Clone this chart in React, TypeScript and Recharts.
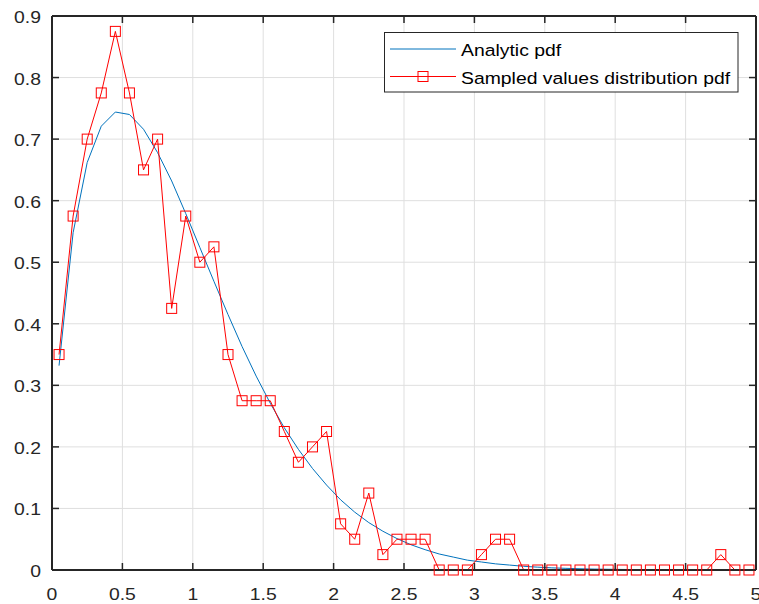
import React from "react";
import { ComposedChart, Line, XAxis, YAxis, CartesianGrid, Legend, ReferenceLine } from "recharts";

// bin centres of the histogram
const binCenters = [
  0.05, 0.15, 0.25, 0.35, 0.45, 0.55, 0.65, 0.75, 0.85, 0.95,
  1.05, 1.15, 1.25, 1.35, 1.45, 1.55, 1.65, 1.75, 1.85, 1.95,
  2.05, 2.15, 2.25, 2.35, 2.45, 2.55, 2.65, 2.75, 2.85, 2.95,
  3.05, 3.15, 3.25, 3.35, 3.45, 3.55, 3.65, 3.75, 3.85, 3.95,
  4.05, 4.15, 4.25, 4.35, 4.45, 4.55, 4.65, 4.75, 4.85, 4.95,
];

const analyticPdf = [
  0.332, 0.548, 0.662, 0.721, 0.744, 0.74, 0.716, 0.678, 0.632, 0.579,
  0.524, 0.469, 0.415, 0.363, 0.315, 0.271, 0.231, 0.196, 0.165, 0.138,
  0.114, 0.094, 0.077, 0.063, 0.051, 0.041, 0.033, 0.026, 0.021, 0.016,
  0.013, 0.01, 0.008, 0.006, 0.0046, 0.0035, 0.0027, 0.002, 0.0015, 0.0012,
  0.0009, 0.0007, 0.0005, 0.0004, 0.0003, 0.0002, 0.0001, 0.0001, 0.0001, 0.0001,
];

const sampledPdf = [
  0.35, 0.575, 0.7, 0.775, 0.875, 0.775, 0.65, 0.7, 0.425, 0.575,
  0.5, 0.525, 0.35, 0.275, 0.275, 0.275, 0.225, 0.175, 0.2, 0.225,
  0.075, 0.05, 0.125, 0.025, 0.05, 0.05, 0.05, 0, 0, 0,
  0.025, 0.05, 0.05, 0, 0, 0, 0, 0, 0, 0,
  0, 0, 0, 0, 0, 0, 0, 0.025, 0, 0,
];

const xTicks = [0, 0.5, 1, 1.5, 2, 2.5, 3, 3.5, 4, 4.5, 5];
const yTicks = [0, 0.1, 0.2, 0.3, 0.4, 0.5, 0.6, 0.7, 0.8, 0.9];

const seriesNames = ["Analytic pdf", "Sampled values distribution pdf"];

const data = binCenters.map((x, i) => ({
  x,
  analytic: analyticPdf[i],
  sampled: sampledPdf[i],
}));

const FONT = '"Liberation Sans", Arial, Helvetica, sans-serif';
const AXIS_COLOR = "#262626";
const STRETCH = 1.14;

// plot box edges (px), same as the chart margins below
const PLOT_TOP = 16;
const PLOT_BOTTOM = 570;
const PLOT_LEFT = 52;
const PLOT_RIGHT = 756;
const TICK_LEN = 7;
const X_LABEL_GAP = 17;
const Y_LABEL_GAP = 11;

// bottom labels, with inward ticks on the bottom and top edges of the box
const XTick = (props: any) => {
  const { x, y, payload } = props;
  const bottom = -X_LABEL_GAP;
  const top = PLOT_TOP - PLOT_BOTTOM - X_LABEL_GAP;
  return (
    <g transform={`translate(${x},${y})`}>
      <line x1={0} x2={0} y1={bottom} y2={bottom - TICK_LEN} stroke={AXIS_COLOR} strokeWidth={1.5} />
      <line x1={0} x2={0} y1={top} y2={top + TICK_LEN} stroke={AXIS_COLOR} strokeWidth={1.5} />
      <text
        transform={`scale(${STRETCH},1)`}
        y={12.5}
        textAnchor="middle"
        fontSize={17}
        fontFamily={FONT}
        fill={AXIS_COLOR}
      >
        {String(payload.value)}
      </text>
    </g>
  );
};

// left labels, with inward ticks on the left and right edges of the box
const YTick = (props: any) => {
  const { x, y, payload } = props;
  const left = Y_LABEL_GAP;
  const right = PLOT_RIGHT - PLOT_LEFT + Y_LABEL_GAP;
  return (
    <g transform={`translate(${x},${y})`}>
      <line x1={left} x2={left + TICK_LEN} y1={0} y2={0} stroke={AXIS_COLOR} strokeWidth={1.5} />
      <line x1={right} x2={right - TICK_LEN} y1={0} y2={0} stroke={AXIS_COLOR} strokeWidth={1.5} />
      <text
        transform={`scale(${STRETCH},1)`}
        y={7}
        textAnchor="end"
        fontSize={17}
        fontFamily={FONT}
        fill={AXIS_COLOR}
      >
        {String(Math.round(payload.value * 10) / 10)}
      </text>
    </g>
  );
};

const SquareDot = (props: any) => {
  const { cx, cy, index } = props;
  if (cx == null || cy == null) return <g key={`sq-${index}`} />;
  return (
    <rect
      key={`sq-${index}`}
      x={cx - 5}
      y={cy - 5}
      width={10}
      height={10}
      fill="none"
      stroke="#ff0000"
      strokeWidth={1}
    />
  );
};

const LegendBox = () => (
  <svg width={355} height={61} style={{ display: "block" }}>
    <rect x={0.5} y={0.5} width={353.5} height={59.5} fill="#ffffff" stroke={AXIS_COLOR} strokeWidth={1} />
    <line x1={6} x2={72} y1={17} y2={17} stroke="#0072BD" strokeWidth={1} />
    <text transform={`translate(77,23.5) scale(${STRETCH},1)`} fontSize={17} fontFamily={FONT} fill="#000">
      {seriesNames[0]}
    </text>
    <line x1={6} x2={72} y1={44.5} y2={44.5} stroke="#ff0000" strokeWidth={1} />
    <rect x={34} y={39.5} width={10} height={10} fill="none" stroke="#ff0000" strokeWidth={1} />
    <text transform={`translate(77,51.5) scale(${STRETCH},1)`} fontSize={17} fontFamily={FONT} fill="#000">
      {seriesNames[1]}
    </text>
  </svg>
);

export default function App() {
  return (
    <div style={{ position: "absolute", left: 0, top: 0, width: 759, height: 604, background: "#fff" }}>
      <ComposedChart
        width={759}
        height={604}
        data={data}
        margin={{ top: PLOT_TOP, right: 759 - PLOT_RIGHT, left: 0, bottom: 0 }}
      >
        <CartesianGrid stroke="#dfdfdf" strokeWidth={1} />
        <XAxis
          dataKey="x"
          type="number"
          domain={[0, 5]}
          ticks={xTicks}
          interval={0}
          height={604 - PLOT_BOTTOM}
          axisLine={{ stroke: AXIS_COLOR, strokeWidth: 2 }}
          tickLine={false}
          tickSize={0}
          tickMargin={X_LABEL_GAP}
          tick={<XTick />}
        />
        <YAxis
          type="number"
          domain={[0, 0.9]}
          ticks={yTicks}
          interval={0}
          width={PLOT_LEFT}
          axisLine={{ stroke: AXIS_COLOR, strokeWidth: 2 }}
          tickLine={false}
          tickSize={0}
          tickMargin={Y_LABEL_GAP}
          tick={<YTick />}
        />
        <ReferenceLine y={0.9} stroke={AXIS_COLOR} strokeWidth={2} />
        <ReferenceLine x={5} stroke={AXIS_COLOR} strokeWidth={2} />
        <Legend
          layout="horizontal"
          verticalAlign="middle"
          align="center"
          wrapperStyle={{ left: 384, top: 32, width: 355, height: 61 }}
          content={() => <LegendBox />}
        />
        <Line
          dataKey="analytic"
          name={seriesNames[0]}
          type="linear"
          stroke="#0072BD"
          strokeWidth={1}
          dot={false}
          activeDot={false}
          isAnimationActive={false}
        />
        <Line
          dataKey="sampled"
          name={seriesNames[1]}
          type="linear"
          stroke="#ff0000"
          strokeWidth={1}
          dot={SquareDot}
          activeDot={false}
          isAnimationActive={false}
        />
      </ComposedChart>
    </div>
  );
}
